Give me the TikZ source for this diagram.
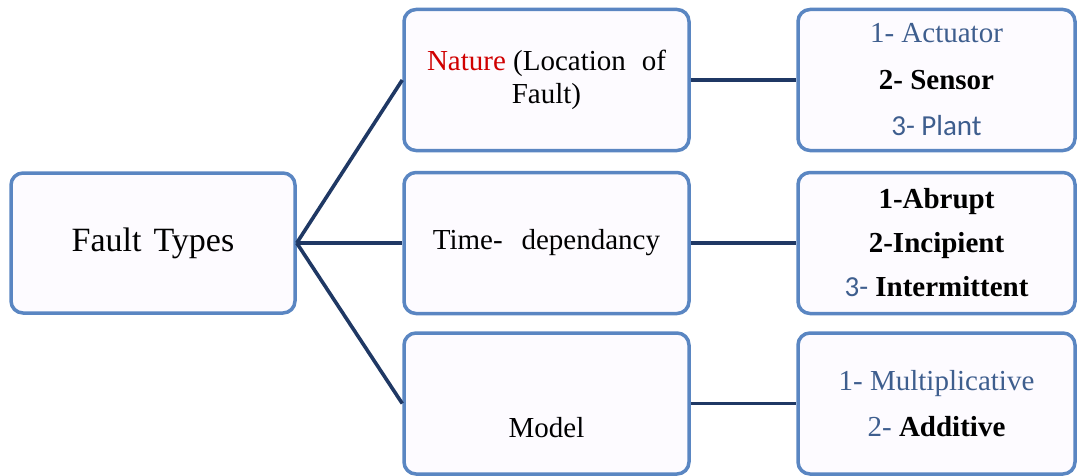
\documentclass[tikz,border=0pt]{standalone}
\usepackage{fontspec}
\setmainfont{Liberation Serif}
\newfontfamily\serbold{Liberation Serif Bold}
\newfontfamily\calib{Carlito}
\newcommand{\bsf}[1]{{\serbold #1}}
\definecolor{boxblue}{HTML}{5A86C2}
\definecolor{boxfill}{HTML}{FDFBFF}
\definecolor{linknavy}{HTML}{1F3864}
\definecolor{slate}{HTML}{3E5E8E}
\definecolor{natred}{HTML}{D00000}
\begin{document}
\begin{tikzpicture}[x=1pt,y=-1pt,
  box/.style={draw=boxblue, line width=3.5pt, fill=boxfill, rounded corners=12pt, inner sep=0pt},
  rootbox/.style={box, minimum width=284pt, minimum height=140pt, font=\fontsize{34}{40}\selectfont},
  midbox/.style={box, minimum width=285pt, minimum height=141pt, align=center, font=\fontsize{29}{33}\selectfont},
  subbox/.style={box, minimum width=277pt, minimum height=141pt, align=center},
  link/.style={draw=linknavy, line width=3.6pt}]
\useasboundingbox (0,0) rectangle (1078,476);

% root
\node[rootbox] (fault) at (153,243) {Fault\hspace{0.35em}Types};

% categories
\node[midbox] (nature) at (546.5,80) {{\color{natred}Nature} (Location\hspace{0.3em} of\\Fault)};
\node[midbox] (time) at (546.5,243) {Time-\hspace{0.4em} dependancy};
\node[midbox] (model) at (546.5,403.5) {};
\node[anchor=base, font=\fontsize{29}{33}\selectfont] (modeltext) at (546.5,437) {Model};

% fault classes
\node[subbox, font=\fontsize{29}{46.5}\selectfont] (natsub) at (936.5,80)
  {{\color{slate}1- Actuator}\\\bsf{2- Sensor}\\{\calib\color{slate}3- Plant}};
\node[subbox, font=\fontsize{29}{44}\selectfont] (timesub) at (936.5,243)
  {\bsf{1-Abrupt}\\\bsf{2-Incipient}\\{\calib\color{slate}3-} \bsf{Intermittent}};
\node[subbox, font=\fontsize{29}{46}\selectfont] (modelsub) at (936.5,403.5)
  {{\color{slate}1- Multiplicative}\\{\color{slate}2-} \bsf{Additive}};

% connectors
\draw[link] (fault.east) -- (nature.west);
\draw[link] (fault.east) -- (time.west);
\draw[link] (fault.east) -- (model.west);
\draw[link] (nature.east) -- (natsub.west);
\draw[link] (time.east) -- (timesub.west);
\draw[link] (model.east) -- (modelsub.west);
\end{tikzpicture}
\end{document}
